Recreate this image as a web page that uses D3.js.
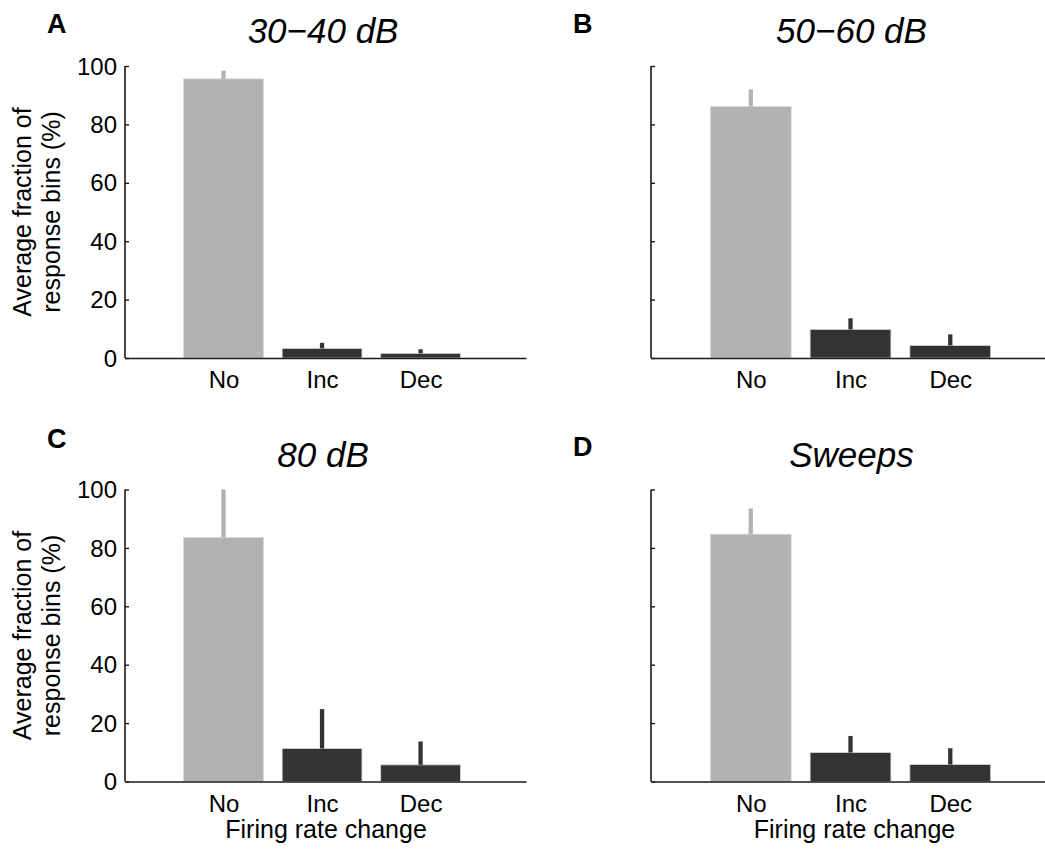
<!DOCTYPE html>
<html>
<head>
<meta charset="utf-8">
<script src="https://cdn.jsdelivr.net/npm/d3@7"></script>
<style>
  html, body { margin: 0; padding: 0; background: #fff; }
  svg { display: block; font-family: "Liberation Sans", Arial, Helvetica, sans-serif; }
</style>
</head>
<body>
<svg id="chart" width="1045" height="849"></svg>
<script>
// Firing-rate change categories shown on every panel
const categories = ["No", "Inc", "Dec"];
const yTicks = [0, 20, 40, 60, 80, 100];

// Panel titles and letters
const panelLetters = ["A", "B", "C", "D"];
const panelTitles = ["30\u221240 dB", "50\u221260 dB", "80 dB", "Sweeps"];

// Mean fraction of response bins (%) per category, one array per panel
const meanA = [95.6, 3.3, 1.6];
const meanB = [86.1, 9.8, 4.3];
const meanC = [83.6, 11.3, 5.7];
const meanD = [84.7, 9.9, 5.8];

// Upper end of each error bar (%)
const errTopA = [98.4, 5.2, 3.0];
const errTopB = [92.0, 13.6, 8.1];
const errTopC = [100.0, 24.8, 13.7];
const errTopD = [93.5, 15.6, 11.4];

const means = [meanA, meanB, meanC, meanD];
const errTops = [errTopA, errTopB, errTopC, errTopD];

const barColors = ["#b2b2b2", "#333333", "#333333"];

// Panel geometry (pixels)
const layout = [
  { x0: 125, x1: 526, y0: 358, y1: 66, showY: true,  showX: false, letterX: 47,  letterY: 33 },
  { x0: 651, x1: 1057, y0: 358, y1: 66, showY: false, showX: false, letterX: 573, letterY: 33 },
  { x0: 125, x1: 526, y0: 781.5, y1: 489.5, showY: true,  showX: true, letterX: 47,  letterY: 448 },
  { x0: 651, x1: 1057, y0: 781.5, y1: 489.5, showY: false, showX: true, letterX: 573, letterY: 456 }
];

const svg = d3.select("#chart");
const axisColor = "#1a1a1a";

layout.forEach((p, i) => {
  const g = svg.append("g");
  const x = d3.scaleLinear().domain([0, 4.07]).range([p.x0, p.x1]);
  const y = d3.scaleLinear().domain([0, 100]).range([p.y0, p.y1]);
  const barW = x(0.81) - x(0);

  // bars
  g.selectAll("rect.bar")
    .data(means[i])
    .join("rect")
    .attr("class", "bar")
    .attr("x", (d, j) => x(j + 1) - barW / 2)
    .attr("y", d => y(d))
    .attr("width", barW)
    .attr("height", d => y(0) - y(d))
    .attr("fill", (d, j) => barColors[j])
    .attr("stroke", "#d8d8d8")
    .attr("stroke-width", 0.8);

  // upper error bars
  g.selectAll("line.err")
    .data(errTops[i])
    .join("line")
    .attr("class", "err")
    .attr("x1", (d, j) => x(j + 1))
    .attr("x2", (d, j) => x(j + 1))
    .attr("y1", (d, j) => y(means[i][j]))
    .attr("y2", d => y(d))
    .attr("stroke", (d, j) => barColors[j])
    .attr("stroke-width", 4.3);

  // y axis: inward ticks, labels only on left column
  const yAxis = d3.axisRight(y).tickValues(yTicks).tickSize(4).tickFormat("");
  const yg = g.append("g").attr("transform", `translate(${p.x0},0)`).call(yAxis);
  yg.select(".domain").attr("stroke", axisColor).attr("stroke-width", 1.6)
    .attr("d", `M${0},${p.y1}H0V${p.y0}`);
  yg.selectAll(".tick line").attr("stroke", axisColor).attr("stroke-width", 1.4);

  if (p.showY) {
    g.selectAll("text.ytick")
      .data(yTicks)
      .join("text")
      .attr("class", "ytick")
      .attr("x", p.x0 - 8)
      .attr("y", d => y(d))
      .attr("dy", "0.36em")
      .attr("text-anchor", "end")
      .attr("font-size", 24)
      .attr("fill", "#000")
      .text(d => d);

    const cy = (p.y0 + p.y1) / 2;
    const yl = g.append("text")
      .attr("transform", `translate(${p.x0 - 94},${cy}) rotate(-90)`)
      .attr("text-anchor", "middle")
      .attr("font-size", 25)
      .attr("fill", "#000");
    yl.append("tspan").attr("x", 0).attr("dy", 0).text("Average fraction of");
    yl.append("tspan").attr("x", 0).attr("dy", 28.5).text("response bins (%)");
  }

  // x axis baseline and category labels
  const xAxis = d3.axisBottom(x).tickValues([1, 2, 3]).tickSize(0)
    .tickFormat(d => categories[d - 1]);
  const xg = g.append("g").attr("transform", `translate(0,${p.y0})`).call(xAxis);
  xg.select(".domain").attr("stroke", axisColor).attr("stroke-width", 1.6);
  xg.selectAll(".tick text")
    .attr("font-size", 24)
    .attr("font-family", "Liberation Sans, Arial, sans-serif")
    .attr("fill", "#000")
    .attr("dy", 0)
    .attr("y", 30);

  if (p.showX) {
    g.append("text")
      .attr("x", x(2) + 4)
      .attr("y", p.y0 + 56)
      .attr("text-anchor", "middle")
      .attr("font-size", 25)
      .attr("fill", "#000")
      .text("Firing rate change");
  }

  // title
  g.append("text")
    .attr("x", x(2) + 1)
    .attr("y", p.y1 - 23)
    .attr("text-anchor", "middle")
    .attr("font-size", 35)
    .attr("font-style", "italic")
    .attr("fill", "#000")
    .text(panelTitles[i]);

  // panel letter
  g.append("text")
    .attr("x", p.letterX)
    .attr("y", p.letterY)
    .attr("font-size", 27)
    .attr("font-weight", "bold")
    .attr("fill", "#000")
    .text(panelLetters[i]);
});
</script>
</body>
</html>
